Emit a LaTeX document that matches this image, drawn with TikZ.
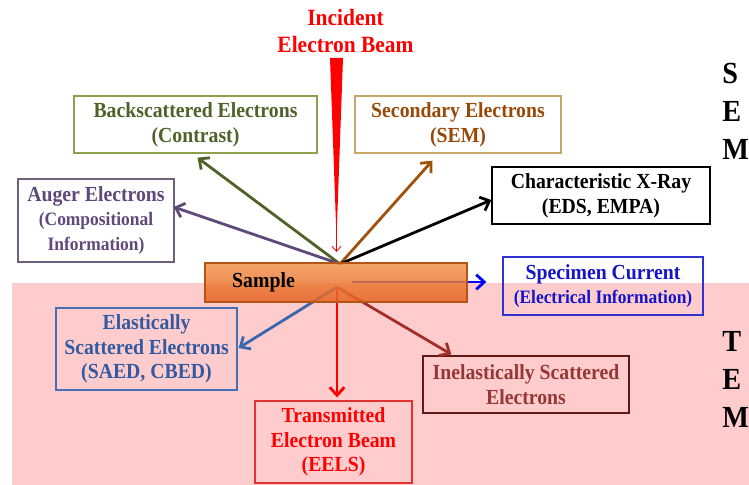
\documentclass[tikz,border=0pt]{standalone}
\usepackage{fontspec}
\setmainfont[FakeStretch=0.92]{Liberation Serif}
\usetikzlibrary{arrows.meta,calc}
\definecolor{pinkbg}{RGB}{255,204,206}
\definecolor{bsT}{RGB}{79,98,40}
\definecolor{bsB}{RGB}{140,160,80}
\definecolor{seT}{RGB}{152,72,7}
\definecolor{seB}{RGB}{200,165,105}
\definecolor{seA}{RGB}{160,82,10}
\definecolor{auT}{RGB}{95,73,122}
\definecolor{auB}{RGB}{110,95,125}
\definecolor{auA}{RGB}{96,74,123}
\definecolor{elT}{RGB}{50,90,160}
\definecolor{elB}{RGB}{70,110,180}
\definecolor{elA}{RGB}{58,102,174}
\definecolor{ieT}{RGB}{149,55,53}
\definecolor{ieB}{RGB}{100,25,25}
\definecolor{ieA}{RGB}{160,48,40}
\definecolor{trB}{RGB}{225,50,50}
\definecolor{scT}{RGB}{20,20,200}
\definecolor{scB}{RGB}{50,50,210}
\definecolor{smpTop}{RGB}{240,150,80}
\definecolor{smpBot}{RGB}{230,96,30}
\definecolor{smpB}{RGB}{180,85,20}
\newcommand{\smallfnt}{\fontsize{14.2}{18}\selectfont}
\begin{document}
\begin{tikzpicture}[x=0.75pt,y=-0.75pt,
  bx/.style 2 args={draw, line width=1pt, inner sep=0pt, align=center,
    minimum width=#1*0.75pt, minimum height=#2*0.75pt,
    font=\bfseries\fontsize{16.1}{18.6}\selectfont},
  ar/.style={line width=2.1pt, -{Straight Barb[length=6pt,width=11pt]}},
  letters/.style={anchor=west, align=left, inner sep=0pt,
    font=\bfseries\fontsize{23}{28.5}\selectfont}]
\useasboundingbox (0,0) rectangle (749,485);
\fill[pinkbg] (12,283) rectangle (749,485);

% title and incident beam
\node[text=red, align=center, font=\bfseries\fontsize{17.5}{20}\selectfont] (inc) at (345.5,31) {Incident\\Electron Beam};
\coordinate (beamL) at (330,58);
\coordinate (beamR) at (343,58);
\coordinate (beamEnd) at (336.5,238);
\coordinate (beamS) at (336.5,200);
\coordinate (beamTip) at (336.5,252);
\fill[red] (beamL) -- (beamR) -- (beamEnd) -- cycle;
\draw[red, line width=0.6pt, -{Straight Barb[length=4pt,width=7pt]}] (beamS) -- (beamTip);

% boxes
\node[bx={243}{57}, draw=bsB, text=bsT, fill=white] (bs) at (195.5,124.5) {Backscattered Electrons\\(Contrast)};
\node[bx={206}{57}, draw=seB, text=seT, fill=white] (se) at (458,124.5) {Secondary Electrons\\(SEM)};
\node[bx={218}{57}, draw=black, text=black, fill=white] (xr) at (601,195.5) {Characteristic X-Ray\\(EDS, EMPA)};
\node[bx={156}{83}, draw=auB, text=auT, fill=white] (au) at (96,220.5) {Auger Electrons\\{\smallfnt (Compositional}\\{\smallfnt Information)}};
\node[bx={200}{58}, draw=scB, text=scT] (sc) at (603,286) {Specimen Current\\{\smallfnt (Electrical Information)}};
\node[bx={181}{82}, draw=elB, text=elT] (el) at (146.5,349) {Elastically\\Scattered Electrons\\(SAED, CBED)};
\node[bx={206}{57}, draw=ieB, text=ieT] (ie) at (526,384.5) {Inelastically Scattered\\Electrons};
\node[bx={157}{82}, draw=trB, text=red] (tr) at (333.5,442) {Transmitted\\Electron Beam\\(EELS)};

% arrows
\coordinate (up) at (340,264);
\coordinate (dn) at (337,287);
\coordinate (sp) at (352,282);
\draw[ar, bsT] (up) -- ($(bs.south)+(2,4)$);
\draw[ar, seA] (up) -- ($(se.south west)+(78,7)$);
\draw[ar, black] (up) -- ($(xr.west)+(0,4.5)$);
\draw[ar, auA] (up) -- ($(au.east)+(-1,-13.5)$);
\draw[ar, elA] (dn) -- ($(el.east)+(1,-1)$);
\draw[ar, red] (dn) -- ($(tr.north)+(3.5,-3)$);
\draw[ar, ieA] (dn) -- ($(ie.north west)+(29,-1)$);
\draw[ar, blue] (sp) -- ($(sc.west)+(-16,-4)$);

% sample
\node[inner sep=0pt, minimum width=262*0.75pt, minimum height=39*0.75pt,
  draw=smpB, line width=1.2pt, top color=smpTop, bottom color=smpBot,
  fill opacity=0.85, draw opacity=1] (smp) at (336,282.5) {};
\node[font=\bfseries\fontsize{16.1}{18.6}\selectfont, inner sep=0pt] (smplbl) at (263.5,282) {Sample};

% SEM / TEM
\node[letters] (sem) at (722,111) {S\\E\\M};
\node[letters] (tem) at (722,379) {T\\E\\M};
\end{tikzpicture}
\end{document}
